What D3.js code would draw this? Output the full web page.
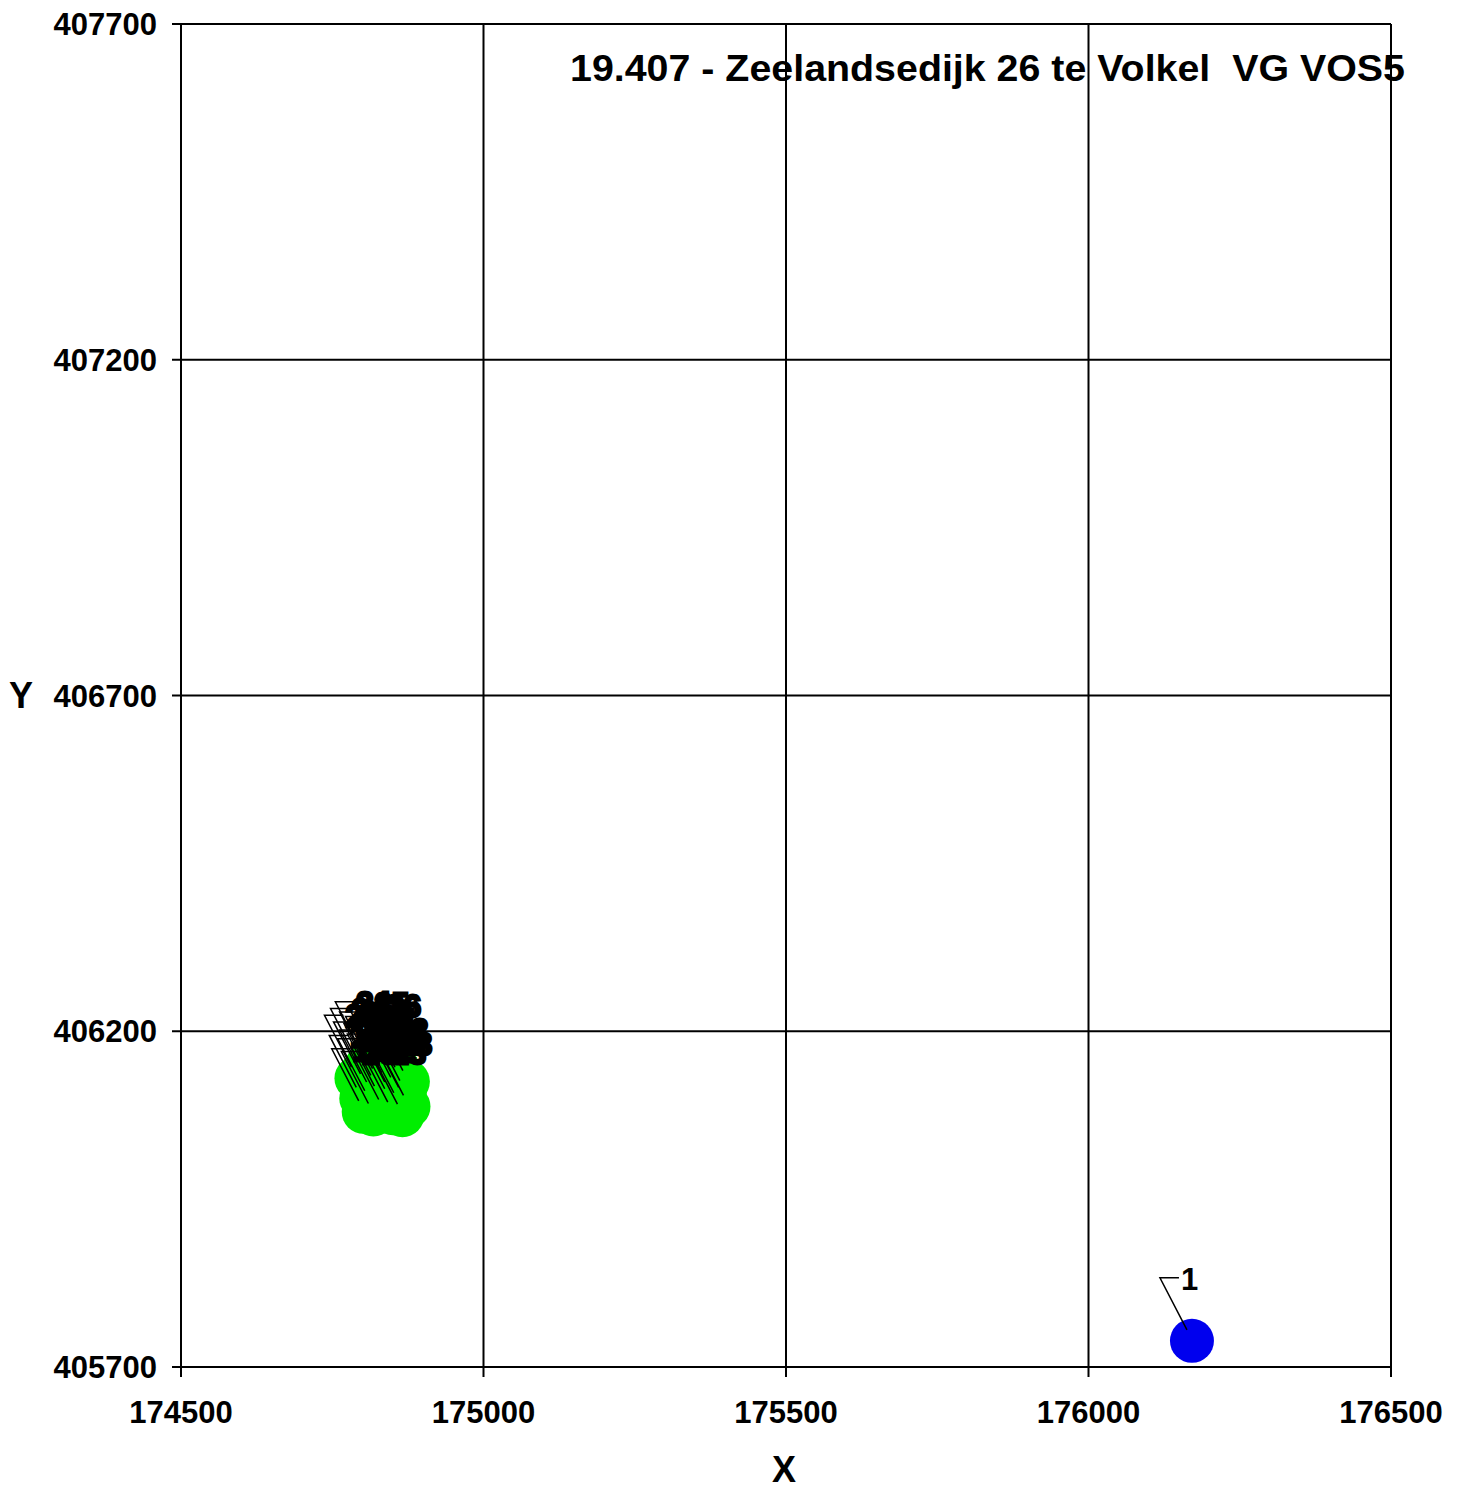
<!DOCTYPE html>
<html>
<head>
<meta charset="utf-8">
<script src="https://cdn.jsdelivr.net/npm/d3@7"></script>
<style>
  html, body { margin: 0; padding: 0; background: #fff; }
  svg { display: block; }
  text { font-family: Arial, "Liberation Sans", sans-serif; font-weight: bold; fill: #000; }
</style>
</head>
<body>
<svg id="chart" width="1464" height="1491"></svg>
<script>
const title = "19.407 - Zeelandsedijk 26 te Volkel  VG VOS5";
const xTicks = [174500, 175000, 175500, 176000, 176500];
const yTicks = [405700, 406200, 406700, 407200, 407700];

// receptor point 1 (blue)
const sourceIds = ["1"];
const sourceX = [176171];
const sourceY = [405739];

// cluster of green points (labels 2..31)
const clusterIds = ["2","3","4","5","6","7","8","9","10","11","12","13","14","15","16","17","18","19","20","21","22","23","24","25","26","27","28","29","30","31"];
const clusterX = [174800,174815,174830,174848,174862,174875,174805,174822,174840,174855,174870,174798,174812,174828,174845,174860,174876,174802,174818,174835,174850,174866,174808,174838,174858,174790,174825,174845,174815,174868];
const clusterY = [406140,406135,406142,406138,406130,406125,406120,406118,406122,406115,406110,406100,406095,406102,406098,406092,406088,406080,406076,406082,406078,406075,406150,406148,406145,406130,406128,406108,406108,406100];

(function () {
const svg = d3.select("#chart");
const mLeft = 181, mRight = 1391, mTop = 24, mBottom = 1367;

const x = d3.scaleLinear().domain([174500, 176500]).range([mLeft, mRight]);
const y = d3.scaleLinear().domain([405700, 407700]).range([mBottom, mTop]);

// grid
const g = svg.append("g");
g.selectAll("line.vg").data(xTicks).join("line")
  .attr("x1", d => x(d)).attr("x2", d => x(d))
  .attr("y1", mTop).attr("y2", mBottom + 10)
  .attr("stroke", "#000").attr("stroke-width", 2);
g.selectAll("line.hg").data(yTicks).join("line")
  .attr("x1", mLeft - 9).attr("x2", mRight)
  .attr("y1", d => y(d)).attr("y2", d => y(d))
  .attr("stroke", "#000").attr("stroke-width", 2);

// tick labels
svg.append("g").selectAll("text").data(xTicks).join("text")
  .attr("x", d => x(d)).attr("y", mBottom + 56)
  .attr("text-anchor", "middle").attr("font-size", 31)
  .text(d => d);
svg.append("g").selectAll("text").data(yTicks).join("text")
  .attr("x", mLeft - 24).attr("y", d => y(d) + 11)
  .attr("text-anchor", "end").attr("font-size", 31)
  .text(d => d);

// axis titles
svg.append("text").attr("x", 784).attr("y", 1482).attr("text-anchor", "middle")
  .attr("font-size", 36).text("X");
svg.append("text").attr("x", 21).attr("y", 708).attr("text-anchor", "middle")
  .attr("font-size", 36).text("Y");

// title
svg.append("text").attr("x", 570).attr("y", 81).attr("font-size", 37)
  .style("white-space", "pre")
  .attr("textLength", 835).attr("lengthAdjust", "spacingAndGlyphs")
  .text(title);

// data
const cluster = clusterIds.map((id, i) => ({id, x: clusterX[i], y: clusterY[i]}));
const sources = sourceIds.map((id, i) => ({id, x: sourceX[i], y: sourceY[i]}));
const R = 22;

svg.append("g").selectAll("circle").data(cluster).join("circle")
  .attr("cx", d => x(d.x)).attr("cy", d => y(d.y)).attr("r", R)
  .attr("fill", "#00ee00");
svg.append("g").selectAll("circle").data(sources).join("circle")
  .attr("cx", d => x(d.x)).attr("cy", d => y(d.y)).attr("r", R)
  .attr("fill", "#0000ee");

function drawLabels(data, thick) {
  const lg = svg.append("g");
  lg.selectAll("polyline").data(data).join("polyline")
    .attr("points", d => {
      const px = x(d.x), py = y(d.y);
      return [[px - 5, py - 11], [px - 32, py - 63], [px - 13, py - 63]].map(p => p.join(",")).join(" ");
    })
    .attr("fill", "none").attr("stroke", "#000").attr("stroke-width", 1.5);
  lg.selectAll("text").data(data).join("text")
    .attr("x", d => x(d.x) - 11).attr("y", d => y(d.y) - 51)
    .attr("font-size", 31)
    .attr("stroke", thick ? "#000" : "none").attr("stroke-width", thick ? 3 : 0)
    .text(d => d.id);
}
drawLabels(cluster, true);
drawLabels(sources, false);
})();
</script>
</body>
</html>
